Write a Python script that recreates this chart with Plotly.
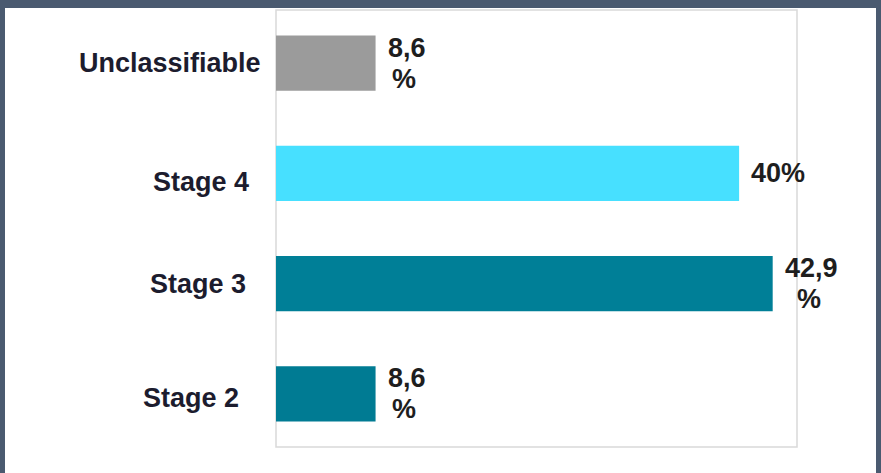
import plotly.graph_objects as go

# Share of cases by stage (percent), bottom to top
categories = ["Stage 2", "Stage 3", "Stage 4", "Unclassifiable"]
values = [8.6, 42.9, 40.0, 8.6]
colors = ["#007b93", "#007f97", "#47e0ff", "#9b9b9b"]

# small per-label nudges for the category names (pixels)
label_xshift = [-35, -28, -25, -13]
label_yshift = [-4, 0, -9, 0]

W, H = 881, 473
ML, MR, MT, MB = 276, 84, 8, 24
PW, PH = W - ML - MR, H - MT - MB

FONT = "Liberation Sans, Arial, sans-serif"
FONT_SIZE = 27
LINE_PITCH = 31
LABEL_GAP = 10

# approximate advance widths (em) of the bold sans glyphs used in value labels
GLYPH_EM = {**{d: 0.556 for d in "0123456789"}, ",": 0.278, "%": 0.889}


def text_width(s):
    return sum(GLYPH_EM.get(c, 0.556) for c in s) * FONT_SIZE


def value_lines(v):
    """Decimal comma; non-integer values wrap the percent sign onto a second line."""
    if float(v).is_integer():
        return [f"{int(v)}%"]
    return [f"{v:.1f}".replace(".", ","), "%"]


def px_x(p):
    return (p - ML) / PW


def px_y(p):
    return (H - MB - p) / PH


fig = go.Figure(
    go.Bar(
        x=values,
        y=categories,
        orientation="h",
        marker=dict(color=colors, line=dict(width=0)),
        hoverinfo="skip",
    )
)

annotations = []
for cat, v, dx, dy in zip(categories, values, label_xshift, label_yshift):
    annotations.append(dict(
        x=0, xref="paper", y=cat, yref="y",
        text=f"<b>{cat}</b>", showarrow=False,
        xanchor="right", yanchor="middle", xshift=dx, yshift=dy,
        font=dict(family=FONT, size=FONT_SIZE, color="#1c1c2e"),
    ))
    lines = value_lines(v)
    n = len(lines)
    centre = LABEL_GAP + text_width(lines[0]) / 2
    for i, line in enumerate(lines):
        annotations.append(dict(
            x=v, xref="x", y=cat, yref="y",
            text=f"<b>{line}</b>", showarrow=False,
            xanchor="left" if i == 0 else "center", yanchor="middle",
            xshift=LABEL_GAP if i == 0 else centre,
            yshift=((n - 1) / 2 - i) * LINE_PITCH,
            font=dict(family=FONT, size=FONT_SIZE, color="#1e1e1e"),
        ))

frame = "#4a5a70"
shapes = [
    # plot box
    dict(type="rect", xref="paper", yref="paper", layer="below",
         x0=px_x(276), x1=px_x(797), y0=px_y(447), y1=px_y(10),
         fillcolor="rgba(0,0,0,0)", line=dict(color="#d9d9d9", width=1.5)),
    # window frame: top band, left and right edges
    dict(type="rect", xref="paper", yref="paper", layer="above",
         x0=px_x(-5), x1=px_x(W + 5), y0=px_y(8), y1=px_y(-5),
         fillcolor=frame, line=dict(width=0)),
    dict(type="rect", xref="paper", yref="paper", layer="above",
         x0=px_x(-5), x1=px_x(5), y0=px_y(H + 5), y1=px_y(-5),
         fillcolor=frame, line=dict(width=0)),
    dict(type="rect", xref="paper", yref="paper", layer="above",
         x0=px_x(876), x1=px_x(W + 5), y0=px_y(H + 5), y1=px_y(-5),
         fillcolor=frame, line=dict(width=0)),
]

fig.update_layout(
    width=W, height=H,
    margin=dict(l=ML, r=MR, t=MT, b=MB, pad=0),
    paper_bgcolor="white", plot_bgcolor="white",
    showlegend=False,
    bargap=0.5,
    annotations=annotations,
    shapes=shapes,
    xaxis=dict(range=[0, 45], showticklabels=False, ticks="", showgrid=False,
               zeroline=False, showline=False, fixedrange=True),
    yaxis=dict(showticklabels=False, ticks="", showgrid=False, zeroline=False,
               showline=False, fixedrange=True),
)

fig.write_html("out.html", config={"displayModeBar": False})
